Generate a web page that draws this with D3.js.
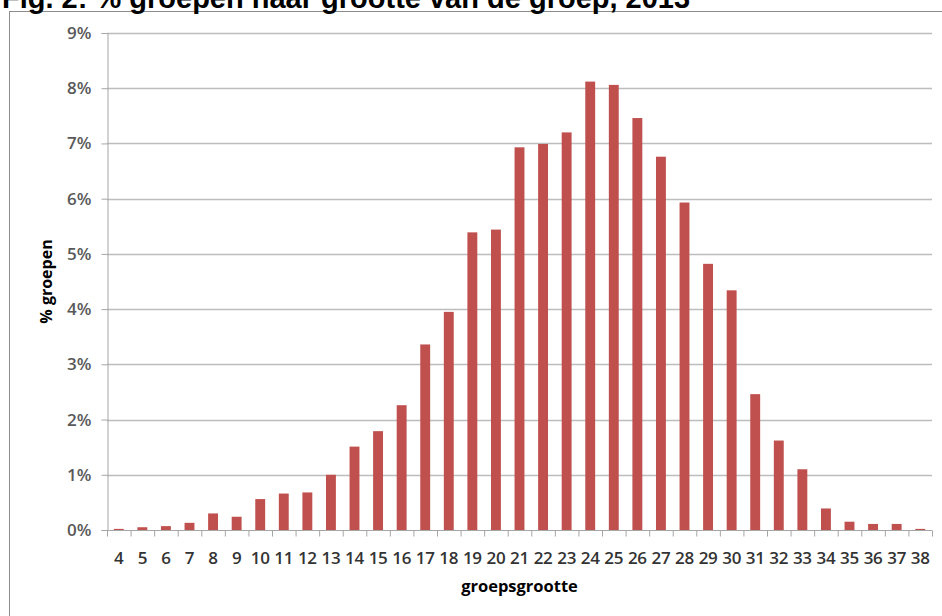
<!DOCTYPE html>
<html>
<head>
<meta charset="utf-8">
<script src="https://cdn.jsdelivr.net/npm/d3@7"></script>
<style>
  body { margin: 0; background: #fff; }
  svg { display: block; }
  .tick text { font-family: 'Open Sans', sans-serif; }
</style>
</head>
<body>
<div id="chart"></div>
<script>
// groepsgrootte (group size) and share of groups in %
const sizes = [4, 5, 6, 7, 8, 9, 10, 11, 12, 13, 14, 15, 16, 17, 18, 19, 20, 21,
  22, 23, 24, 25, 26, 27, 28, 29, 30, 31, 32, 33, 34, 35, 36, 37, 38];
const shares = [0.02, 0.05, 0.07, 0.13, 0.30, 0.24, 0.56, 0.66, 0.68, 1.00, 1.51,
  1.79, 2.26, 3.36, 3.95, 5.39, 5.44, 6.93, 6.99, 7.20, 8.12, 8.06, 7.46, 6.76,
  5.93, 4.82, 4.34, 2.46, 1.62, 1.10, 0.39, 0.15, 0.11, 0.11, 0.02];
const yTicks = [0, 1, 2, 3, 4, 5, 6, 7, 8, 9];

const title = 'Fig. 2: % groepen naar grootte van de groep, 2013';
const xTitle = 'groepsgrootte';
const yTitle = '% groepen';

const width = 942;
const height = 616;
const margin = { top: 33, right: 10, bottom: 86, left: 107 };
const plotW = width - margin.left - margin.right;
const plotH = height - margin.top - margin.bottom;

const data = sizes.map((s, i) => ({ size: s, value: shares[i] }));

const svg = d3.select('#chart')
  .append('svg')
  .attr('width', width)
  .attr('height', height);

// chart frame (only left and top visible in the picture)
svg.append('rect')
  .attr('x', 9.5)
  .attr('y', 11.5)
  .attr('width', width + 20)
  .attr('height', height + 20)
  .attr('fill', 'none')
  .attr('stroke', '#8c8c8c')
  .attr('stroke-width', 1);

svg.append('text')
  .attr('x', 2)
  .attr('y', 8)
  .attr('font-family', "'Liberation Sans', Arial, sans-serif")
  .attr('font-weight', 'bold')
  .attr('font-size', 29)
  .attr('fill', '#000')
  .text(title);

const g = svg.append('g')
  .attr('transform', `translate(${margin.left}, ${margin.top})`);

const slot = d3.scaleBand()
  .domain(sizes)
  .range([0, plotW])
  .padding(0);

const x = d3.scaleBand()
  .domain(sizes)
  .range([0, plotW])
  .paddingInner(0.58)
  .paddingOuter(0.29);

const y = d3.scaleLinear()
  .domain([0, 9])
  .range([plotH, 0]);

// gridlines
g.append('g')
  .attr('class', 'grid')
  .selectAll('line')
  .data(yTicks.filter((d) => d > 0))
  .join('line')
  .attr('x1', 0)
  .attr('x2', plotW)
  .attr('y1', (d) => Math.round(y(d)) + 0.5)
  .attr('y2', (d) => Math.round(y(d)) + 0.5)
  .attr('stroke', '#bdbdbd')
  .attr('stroke-width', 1.5);

// y axis
const yAxis = d3.axisLeft(y)
  .tickValues(yTicks)
  .tickSize(6)
  .tickPadding(10)
  .tickFormat((d) => d + '%');

g.append('g')
  .attr('transform', 'translate(0.5, 0)')
  .call(yAxis)
  .call((a) => a.select('.domain').attr('stroke', '#a6a6a6'))
  .call((a) => a.selectAll('.tick line').attr('stroke', '#a6a6a6'))
  .call((a) => a.selectAll('.tick text')
    .attr('font-size', 17)
    .attr('font-weight', 600)
    .attr('fill', '#595959'));

// bars
g.append('g')
  .selectAll('rect')
  .data(data)
  .join('rect')
  .attr('x', (d) => x(d.size))
  .attr('y', (d) => y(d.value))
  .attr('width', x.bandwidth())
  .attr('height', (d) => plotH - y(d.value))
  .attr('fill', '#c0504d');

// x axis: line, boundary ticks, labels
const xAxisG = g.append('g')
  .attr('transform', `translate(0, ${plotH + 0.5})`);

xAxisG.append('line')
  .attr('x1', 0)
  .attr('x2', plotW)
  .attr('stroke', '#a6a6a6');

xAxisG.selectAll('line.tk')
  .data(sizes.concat(['end']))
  .join('line')
  .attr('class', 'tk')
  .attr('x1', (d) => (d === 'end' ? plotW : slot(d)) + 0.5)
  .attr('x2', (d) => (d === 'end' ? plotW : slot(d)) + 0.5)
  .attr('y1', 0)
  .attr('y2', 6)
  .attr('stroke', '#a6a6a6');

xAxisG.selectAll('text')
  .data(sizes)
  .join('text')
  .attr('x', (d) => slot(d) + slot.bandwidth() / 2)
  .attr('y', 33)
  .attr('text-anchor', 'middle')
  .attr('font-family', "'Open Sans', sans-serif")
  .attr('font-size', 17)
  .attr('font-weight', 600)
  .attr('letter-spacing', -0.3)
  .attr('fill', '#333')
  .text((d) => d);

// axis titles
svg.append('text')
  .attr('x', margin.left + plotW / 2)
  .attr('y', 592)
  .attr('text-anchor', 'middle')
  .attr('font-family', "'Open Sans', sans-serif")
  .attr('font-weight', 'bold')
  .attr('font-size', 16.5)
  .attr('fill', '#000')
  .text(xTitle);

svg.append('text')
  .attr('transform', `translate(52, ${margin.top + plotH / 2}) rotate(-90)`)
  .attr('text-anchor', 'middle')
  .attr('font-family', "'Open Sans', sans-serif")
  .attr('font-weight', 'bold')
  .attr('font-size', 16)
  .attr('fill', '#000')
  .text(yTitle);
</script>
</body>
</html>
